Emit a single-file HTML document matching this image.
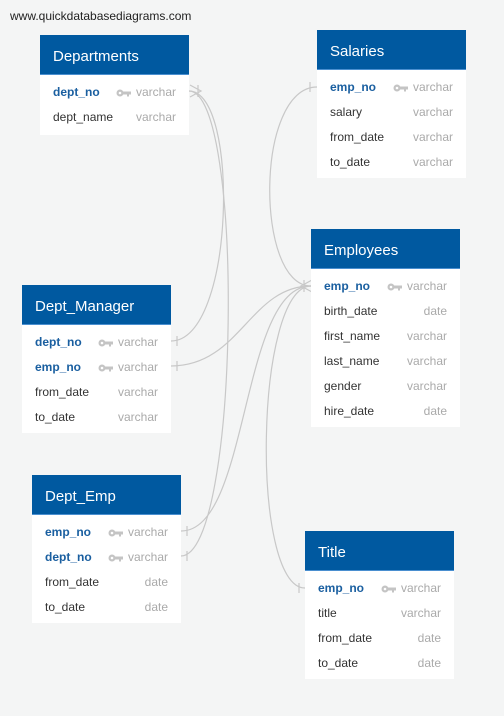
<!DOCTYPE html>
<html><head><style>
body{margin:0;width:504px;height:716px;background:#f4f5f5;position:relative;overflow:hidden;font-family:"Liberation Sans",Arial,sans-serif;}
.url{position:absolute;left:10px;top:9px;font-size:12px;color:#222;}
.t{position:absolute;width:149px;background:#fff;}
.h{height:40px;background:#0059a0;color:#fff;font-size:15px;line-height:40px;padding-left:13px;padding-top:2px;box-sizing:border-box;border-bottom:1px solid #4a8fd0;}
.r{height:25px;line-height:25px;font-size:12px;color:#333;position:relative;padding-left:13px;}
.h + .r{margin-top:5px}
.r.k{color:#1a5fa0;font-weight:bold;}
.r .ty{position:absolute;right:13px;top:0;color:#aaa;font-weight:normal;}
svg.bg{position:absolute;left:0;top:0}
svg.key{position:absolute;left:auto;right:57px;top:9px;width:16px;height:8px;}
</style></head><body>
<div class="url">www.quickdatabasediagrams.com</div>
<svg class="bg" width="504" height="716" fill="none" stroke="#c8c8c8" stroke-width="1.2">
<path d="M189,91 C240,91 235,341 171,341"/>
<path d="M189,91 C245,91 240,556 181,556"/>
<path d="M317,87 C255,87 255,286 311,286"/>
<path d="M171,366 C240,366 250,286 311,286"/>
<path d="M181,531 C250,531 240,286 311,286"/>
<path d="M305,588 C250,588 255,286 311,286"/>
<path d="M190,85 L201,91 L190,97 M198,85 L198,97"/>
<path d="M310,82 L310,92"/>
<path d="M312,280 L301,286 L312,292 M304,280 L304,292"/>
<path d="M177,336 L177,346 M177,361 L177,371 M187,526 L187,536 M187,551 L187,561 M299,583 L299,593"/>
</svg>
<svg width="0" height="0" style="position:absolute"><defs><g id="k"><circle cx="4" cy="4" r="3.5" fill="#c4c4c4"/><rect x="6" y="2.5" width="9" height="3" fill="#c4c4c4"/><rect x="11" y="4" width="2" height="3.5" fill="#c4c4c4"/><circle cx="4" cy="4" r="1.3" fill="#fff"/></g></defs></svg>
<div class="t" style="left:40px;top:35px"><div class="h">Departments</div>
<div class="r k">dept_no<svg class="key"><use href="#k"/></svg><span class="ty">varchar</span></div>
<div class="r">dept_name<span class="ty">varchar</span></div><div style="height:5px"></div></div>

<div class="t" style="left:317px;top:30px"><div class="h">Salaries</div>
<div class="r k">emp_no<svg class="key"><use href="#k"/></svg><span class="ty">varchar</span></div>
<div class="r">salary<span class="ty">varchar</span></div>
<div class="r">from_date<span class="ty">varchar</span></div>
<div class="r">to_date<span class="ty">varchar</span></div><div style="height:3px"></div></div>

<div class="t" style="left:311px;top:229px"><div class="h">Employees</div>
<div class="r k">emp_no<svg class="key"><use href="#k"/></svg><span class="ty">varchar</span></div>
<div class="r">birth_date<span class="ty">date</span></div>
<div class="r">first_name<span class="ty">varchar</span></div>
<div class="r">last_name<span class="ty">varchar</span></div>
<div class="r">gender<span class="ty">varchar</span></div>
<div class="r">hire_date<span class="ty">date</span></div><div style="height:3px"></div></div>

<div class="t" style="left:22px;top:285px"><div class="h">Dept_Manager</div>
<div class="r k">dept_no<svg class="key"><use href="#k"/></svg><span class="ty">varchar</span></div>
<div class="r k">emp_no<svg class="key"><use href="#k"/></svg><span class="ty">varchar</span></div>
<div class="r">from_date<span class="ty">varchar</span></div>
<div class="r">to_date<span class="ty">varchar</span></div><div style="height:3px"></div></div>

<div class="t" style="left:32px;top:475px"><div class="h">Dept_Emp</div>
<div class="r k">emp_no<svg class="key"><use href="#k"/></svg><span class="ty">varchar</span></div>
<div class="r k">dept_no<svg class="key"><use href="#k"/></svg><span class="ty">varchar</span></div>
<div class="r">from_date<span class="ty">date</span></div>
<div class="r">to_date<span class="ty">date</span></div><div style="height:3px"></div></div>

<div class="t" style="left:305px;top:531px"><div class="h">Title</div>
<div class="r k">emp_no<svg class="key"><use href="#k"/></svg><span class="ty">varchar</span></div>
<div class="r">title<span class="ty">varchar</span></div>
<div class="r">from_date<span class="ty">date</span></div>
<div class="r">to_date<span class="ty">date</span></div><div style="height:3px"></div></div>
</body></html>
